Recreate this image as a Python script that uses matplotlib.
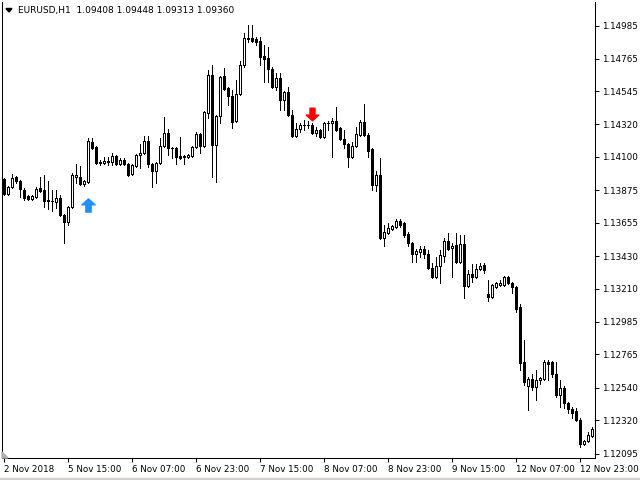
import matplotlib
matplotlib.use('Agg')
import matplotlib.pyplot as plt
from matplotlib.path import Path
from matplotlib.patches import Polygon, Rectangle

# EURUSD H1 candles (oldest first)
opens = [1.13951, 1.13850, 1.13897, 1.13964, 1.13937, 1.13877, 1.13836, 1.13816, 1.13829, 1.13890,
         1.13877, 1.13809, 1.13802, 1.13795, 1.13823, 1.13708, 1.13660, 1.13762, 1.13964, 1.13964,
         1.13917, 1.13931, 1.14201, 1.14167, 1.14066, 1.14059, 1.14073, 1.14066, 1.14106, 1.14052,
         1.14079, 1.14052, 1.13985, 1.14039, 1.14113, 1.14127, 1.14208, 1.14052, 1.14005, 1.14059,
         1.14174, 1.14262, 1.14161, 1.14161, 1.14106, 1.14100, 1.14100, 1.14106, 1.14167, 1.14255,
         1.14174, 1.14397, 1.14654, 1.14181, 1.14377, 1.14647, 1.14566, 1.14512, 1.14343, 1.14526,
         1.14722, 1.14904, 1.14904, 1.14897, 1.14884, 1.14782, 1.14769, 1.14695, 1.14573, 1.14634,
         1.14485, 1.14539, 1.14384, 1.14242, 1.14289, 1.14316, 1.14316, 1.14316, 1.14262, 1.14282,
         1.14235, 1.14330, 1.14330, 1.14343, 1.14296, 1.14221, 1.14188, 1.14100, 1.14174, 1.14248,
         1.14336, 1.14248, 1.14154, 1.13910, 1.13978, 1.13552, 1.13586, 1.13613, 1.13626, 1.13667,
         1.13654, 1.13579, 1.13518, 1.13444, 1.13457, 1.13478, 1.13444, 1.13349, 1.13288, 1.13363,
         1.13430, 1.13532, 1.13485, 1.13505, 1.13390, 1.13512, 1.13228, 1.13309, 1.13288, 1.13343,
         1.13370, 1.13174, 1.13153, 1.13221, 1.13234, 1.13234, 1.13288, 1.13248, 1.13221, 1.13086,
         1.12714, 1.12552, 1.12599, 1.12545, 1.12592, 1.12599, 1.12714, 1.12714, 1.12633, 1.12491,
         1.12538, 1.12437, 1.12396, 1.12383, 1.12322, 1.12160, 1.12180, 1.12214]
highs = [1.13958, 1.13904, 1.13985, 1.13971, 1.13944, 1.13890, 1.13843, 1.13843, 1.13897, 1.13964,
         1.13978, 1.13937, 1.13877, 1.13877, 1.13843, 1.13714, 1.13768, 1.13992, 1.14052, 1.14039,
         1.13944, 1.14228, 1.14228, 1.14174, 1.14079, 1.14100, 1.14100, 1.14127, 1.14113, 1.14093,
         1.14093, 1.14059, 1.14052, 1.14120, 1.14188, 1.14242, 1.14242, 1.14059, 1.14066, 1.14228,
         1.14370, 1.14289, 1.14167, 1.14167, 1.14235, 1.14113, 1.14120, 1.14174, 1.14269, 1.14262,
         1.14411, 1.14688, 1.14722, 1.14384, 1.14647, 1.14701, 1.14573, 1.14553, 1.14620, 1.14749,
         1.14938, 1.14992, 1.14992, 1.14911, 1.14911, 1.14857, 1.14843, 1.14708, 1.14668, 1.14668,
         1.14546, 1.14573, 1.14417, 1.14330, 1.14330, 1.14350, 1.14343, 1.14330, 1.14302, 1.14289,
         1.14336, 1.14343, 1.14363, 1.14438, 1.14302, 1.14282, 1.14194, 1.14201, 1.14302, 1.14350,
         1.14458, 1.14262, 1.14161, 1.14005, 1.14093, 1.13640, 1.13654, 1.13640, 1.13681, 1.13681,
         1.13660, 1.13593, 1.13525, 1.13478, 1.13498, 1.13498, 1.13471, 1.13383, 1.13424, 1.13471,
         1.13552, 1.13586, 1.13518, 1.13586, 1.13572, 1.13572, 1.13336, 1.13376, 1.13376, 1.13383,
         1.13383, 1.13268, 1.13241, 1.13255, 1.13268, 1.13295, 1.13295, 1.13255, 1.13228, 1.13106,
         1.12863, 1.12612, 1.12633, 1.12660, 1.12612, 1.12727, 1.12727, 1.12720, 1.12714, 1.12592,
         1.12552, 1.12443, 1.12410, 1.12403, 1.12335, 1.12187, 1.12241, 1.12274]
lows = [1.13843, 1.13843, 1.13890, 1.13924, 1.13829, 1.13809, 1.13809, 1.13809, 1.13823, 1.13863,
        1.13762, 1.13748, 1.13735, 1.13755, 1.13701, 1.13518, 1.13640, 1.13755, 1.13924, 1.13910,
        1.13904, 1.13924, 1.14154, 1.14052, 1.14046, 1.14052, 1.14046, 1.14046, 1.14046, 1.14046,
        1.14046, 1.13971, 1.13978, 1.14032, 1.14025, 1.14120, 1.14032, 1.13897, 1.13924, 1.14052,
        1.14167, 1.14113, 1.14093, 1.14052, 1.14086, 1.14052, 1.14093, 1.14100, 1.14161, 1.14127,
        1.14167, 1.14363, 1.13964, 1.13931, 1.14330, 1.14553, 1.14451, 1.14296, 1.14336, 1.14519,
        1.14708, 1.14877, 1.14877, 1.14857, 1.14722, 1.14607, 1.14607, 1.14566, 1.14553, 1.14417,
        1.14417, 1.14377, 1.14235, 1.14235, 1.14269, 1.14282, 1.14296, 1.14255, 1.14242, 1.14228,
        1.14228, 1.14282, 1.14100, 1.14275, 1.14215, 1.14161, 1.14032, 1.14093, 1.14167, 1.14242,
        1.14242, 1.14100, 1.13877, 1.13870, 1.13545, 1.13498, 1.13579, 1.13606, 1.13620, 1.13626,
        1.13559, 1.13498, 1.13390, 1.13390, 1.13424, 1.13417, 1.13343, 1.13282, 1.13282, 1.13248,
        1.13390, 1.13471, 1.13288, 1.13383, 1.13383, 1.13147, 1.13221, 1.13255, 1.13282, 1.13336,
        1.13316, 1.13126, 1.13147, 1.13214, 1.13228, 1.13228, 1.13241, 1.13180, 1.13052, 1.12660,
        1.12558, 1.12389, 1.12525, 1.12457, 1.12565, 1.12592, 1.12592, 1.12612, 1.12477, 1.12410,
        1.12403, 1.12369, 1.12335, 1.12315, 1.12139, 1.12153, 1.12173, 1.12207]
closes = [1.13850, 1.13897, 1.13958, 1.13937, 1.13883, 1.13823, 1.13816, 1.13836, 1.13883, 1.13870,
          1.13802, 1.13802, 1.13800, 1.13823, 1.13708, 1.13660, 1.13762, 1.13978, 1.13978, 1.13917,
          1.13937, 1.14208, 1.14161, 1.14059, 1.14059, 1.14073, 1.14066, 1.14106, 1.14052, 1.14079,
          1.14052, 1.13978, 1.14046, 1.14113, 1.14127, 1.14208, 1.14052, 1.14005, 1.14059, 1.14174,
          1.14262, 1.14161, 1.14158, 1.14100, 1.14093, 1.14106, 1.14113, 1.14167, 1.14255, 1.14174,
          1.14404, 1.14654, 1.14181, 1.14377, 1.14640, 1.14559, 1.14512, 1.14336, 1.14526, 1.14722,
          1.14904, 1.14900, 1.14884, 1.14877, 1.14776, 1.14762, 1.14695, 1.14573, 1.14634, 1.14485,
          1.14539, 1.14384, 1.14242, 1.14289, 1.14316, 1.14313, 1.14319, 1.14262, 1.14282, 1.14235,
          1.14330, 1.14327, 1.14343, 1.14282, 1.14221, 1.14188, 1.14100, 1.14174, 1.14255, 1.14336,
          1.14248, 1.14140, 1.13910, 1.13978, 1.13552, 1.13593, 1.13620, 1.13633, 1.13667, 1.13640,
          1.13572, 1.13518, 1.13444, 1.13464, 1.13478, 1.13444, 1.13349, 1.13288, 1.13363, 1.13437,
          1.13532, 1.13478, 1.13498, 1.13390, 1.13512, 1.13228, 1.13309, 1.13288, 1.13343, 1.13363,
          1.13336, 1.13153, 1.13234, 1.13248, 1.13248, 1.13288, 1.13248, 1.13221, 1.13072, 1.12707,
          1.12579, 1.12599, 1.12545, 1.12592, 1.12606, 1.12714, 1.12700, 1.12633, 1.12491, 1.12538,
          1.12437, 1.12396, 1.12369, 1.12322, 1.12160, 1.12180, 1.12220, 1.12261]

time_ticks = [0, 16, 32, 48, 64, 80, 96, 112, 128, 144]
time_labels = ['2 Nov 2018', '5 Nov 15:00', '6 Nov 07:00', '6 Nov 23:00', '7 Nov 15:00',
               '8 Nov 07:00', '8 Nov 23:00', '9 Nov 15:00', '12 Nov 07:00', '12 Nov 23:00']
price_ticks = [1.14985, 1.14765, 1.14545, 1.14320, 1.14100, 1.13875, 1.13655,
               1.13430, 1.13210, 1.12985, 1.12765, 1.12540, 1.12320, 1.12095]

# signal arrows: bar index and price level
buy_bar, buy_price = 21, 1.13775
sell_bar, sell_price = 77, 1.14390

header = 'EURUSD,H1  1.09408 1.09448 1.09313 1.09360'

W, H = 640, 480
fig = plt.figure(figsize=(W / 100, H / 100), dpi=100, facecolor='white')
ax = fig.add_axes([2 / W, 22 / H, 593 / W, 456 / H])
ax.set_xlim(-0.375, 147.875)
ax.set_ylim(1.12065, 1.15147)

n = len(opens)
xs = list(range(n))
ax.vlines(xs, lows, highs, color='black', lw=0.72, antialiased=False, zorder=2)

bottoms, heights, fills = [], [], []
for o, c in zip(opens, closes):
    bottoms.append(min(o, c))
    heights.append(max(abs(c - o), 0.00001))
    fills.append('white' if c >= o else 'black')
ax.bar(xs, heights, bottom=bottoms, width=0.5, color=fills, edgecolor='black',
       linewidth=0.7, antialiased=False, zorder=3)

# arrow markers (Wingdings-like thick arrows)
up_arrow = Path([(0, 0.5), (0.5, 0.05), (0.2, 0.05), (0.2, -0.5), (-0.2, -0.5),
                 (-0.2, 0.05), (-0.5, 0.05), (0, 0.5)], closed=True)
down_arrow = Path([(x, -y) for x, y in up_arrow.vertices], closed=True)
ax.plot([buy_bar], [buy_price], marker=up_arrow, markersize=9.5, color='#1e90ff',
        linestyle='none', zorder=4)
ax.plot([sell_bar], [sell_price], marker=down_arrow, markersize=9, color='red',
        linestyle='none', zorder=4)

for side in ['left', 'right', 'bottom']:
    ax.spines[side].set_linewidth(0.75)
ax.spines['top'].set_visible(False)

ax.yaxis.tick_right()
ax.set_yticks(price_ticks)
ax.set_yticklabels(['%.5f' % p for p in price_ticks])
ax.set_xticks(time_ticks)
ax.set_xticklabels(time_labels)
for lbl in ax.get_xticklabels():
    lbl.set_horizontalalignment('left')
ax.tick_params(axis='both', direction='out', length=3, width=0.75, labelsize=6.3,
               pad=2, colors='black')

fig.text(18 / W, 1 - 10.5 / H, header, fontsize=6.5, va='center', ha='left')
fig.add_artist(Polygon([(6 / W, 1 - 8.5 / H), (12 / W, 1 - 8.5 / H), (9 / W, 1 - 12 / H)],
                       closed=True, transform=fig.transFigure, color='black'))
fig.add_artist(Polygon([(2 / W, 22 / H), (8 / W, 22 / H), (2 / W, 28 / H)], closed=True,
                       transform=fig.transFigure, color='#b0b0b0'))
fig.add_artist(Rectangle((0, 0), 1, 2 / H, transform=fig.transFigure, color='#d4d0c8'))

fig.savefig('out.png', dpi=100, facecolor='white')
